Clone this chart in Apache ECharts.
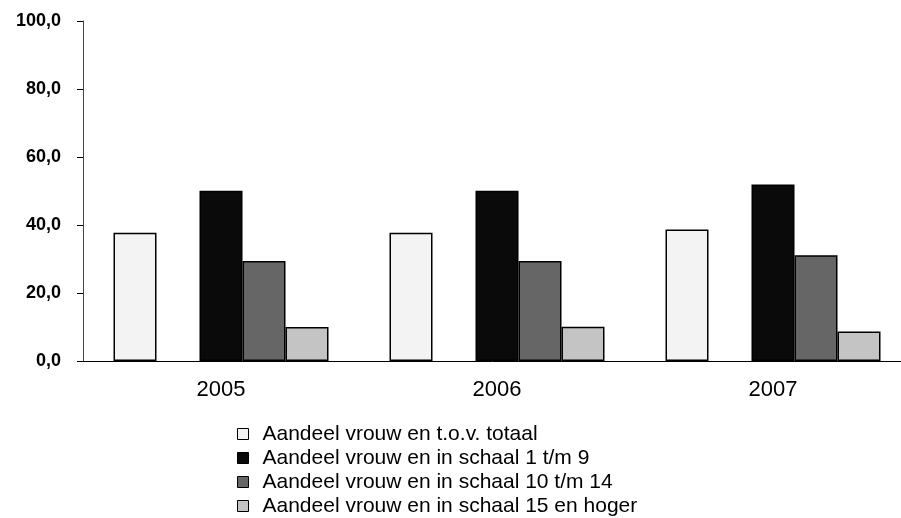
<!DOCTYPE html>
<html>
<head>
<meta charset="utf-8">
<title>Aandeel vrouwen</title>
<script src="https://cdn.jsdelivr.net/npm/echarts@6/dist/echarts.min.js"></script>
<style>
  html, body { margin: 0; padding: 0; background: #fff; }
  #chart { width: 901px; height: 518px; }
</style>
</head>
<body>
<div id="chart"></div>
<script>
  // categorieen en waarden
  const years = ['2005', '2006', '2007'];
  const totaal = [37.7, 37.7, 38.7];
  const schaal1tm9 = [50.1, 50.1, 51.9];
  const schaal10tm14 = [29.4, 29.4, 31.1];
  const schaal15hoger = [10.0, 10.1, 8.7];
  const leeg = [null, null, null]; // lege plek tussen totaal en schaal 1 t/m 9
  const yTicks = [0, 20, 40, 60, 80, 100];

  const names = [
    'Aandeel vrouw en t.o.v. totaal',
    'Aandeel vrouw en in schaal 1 t/m 9',
    'Aandeel vrouw en in schaal 10 t/m 14',
    'Aandeel vrouw en in schaal 15 en hoger'
  ];
  const colors = ['#f3f3f3', '#0a0a0a', '#666666', '#c4c4c4'];
  const font = '"Liberation Sans", Arial, sans-serif';

  const myChart = echarts.init(document.getElementById('chart'));

  const bar = (name, data, color) => ({
    name: name,
    type: 'bar',
    data: data,
    barWidth: 43,
    barGap: '0%',
    itemStyle: { color: color, borderColor: '#000', borderWidth: 1.5 },
    emphasis: { disabled: true }
  });

  const option = {
    animation: false,
    // grid loopt iets buiten het beeld, zoals in het origineel
    grid: { left: 83, width: 828, top: 21, bottom: 157, outerBoundsMode: 'none' },
    legend: {
      orient: 'vertical',
      left: 232,
      top: 417,
      height: 110,
      data: names,
      icon: 'rect',
      itemWidth: 11,
      itemHeight: 11,
      itemGap: 0,
      itemStyle: { borderWidth: 1, borderColor: '#000' },
      selectedMode: false,
      textStyle: {
        fontFamily: font,
        fontSize: 21,
        lineHeight: 24,
        color: '#000',
        padding: [0, 0, 0, 9]
      }
    },
    xAxis: {
      type: 'category',
      data: years,
      axisLine: { lineStyle: { color: '#000', width: 1 } },
      axisTick: { length: 6, lineStyle: { color: '#000' } },
      axisLabel: { fontFamily: font, fontSize: 22, color: '#000', margin: 18 }
    },
    yAxis: {
      type: 'value',
      min: 0,
      max: 100,
      interval: 20,
      splitLine: { show: false },
      axisLine: { show: true, lineStyle: { color: '#444', width: 1 } },
      axisTick: { show: true, length: 6, lineStyle: { color: '#000' } },
      axisLabel: {
        fontFamily: font,
        fontSize: 18,
        fontWeight: 'bold',
        color: '#000',
        margin: 22,
        customValues: yTicks,
        formatter: v => v.toFixed(1).replace('.', ',')
      }
    },
    series: [
      bar(names[0], totaal, colors[0]),
      bar('leeg', leeg, 'transparent'),
      bar(names[1], schaal1tm9, colors[1]),
      bar(names[2], schaal10tm14, colors[2]),
      bar(names[3], schaal15hoger, colors[3])
    ]
  };

  myChart.setOption(option);
</script>
</body>
</html>
